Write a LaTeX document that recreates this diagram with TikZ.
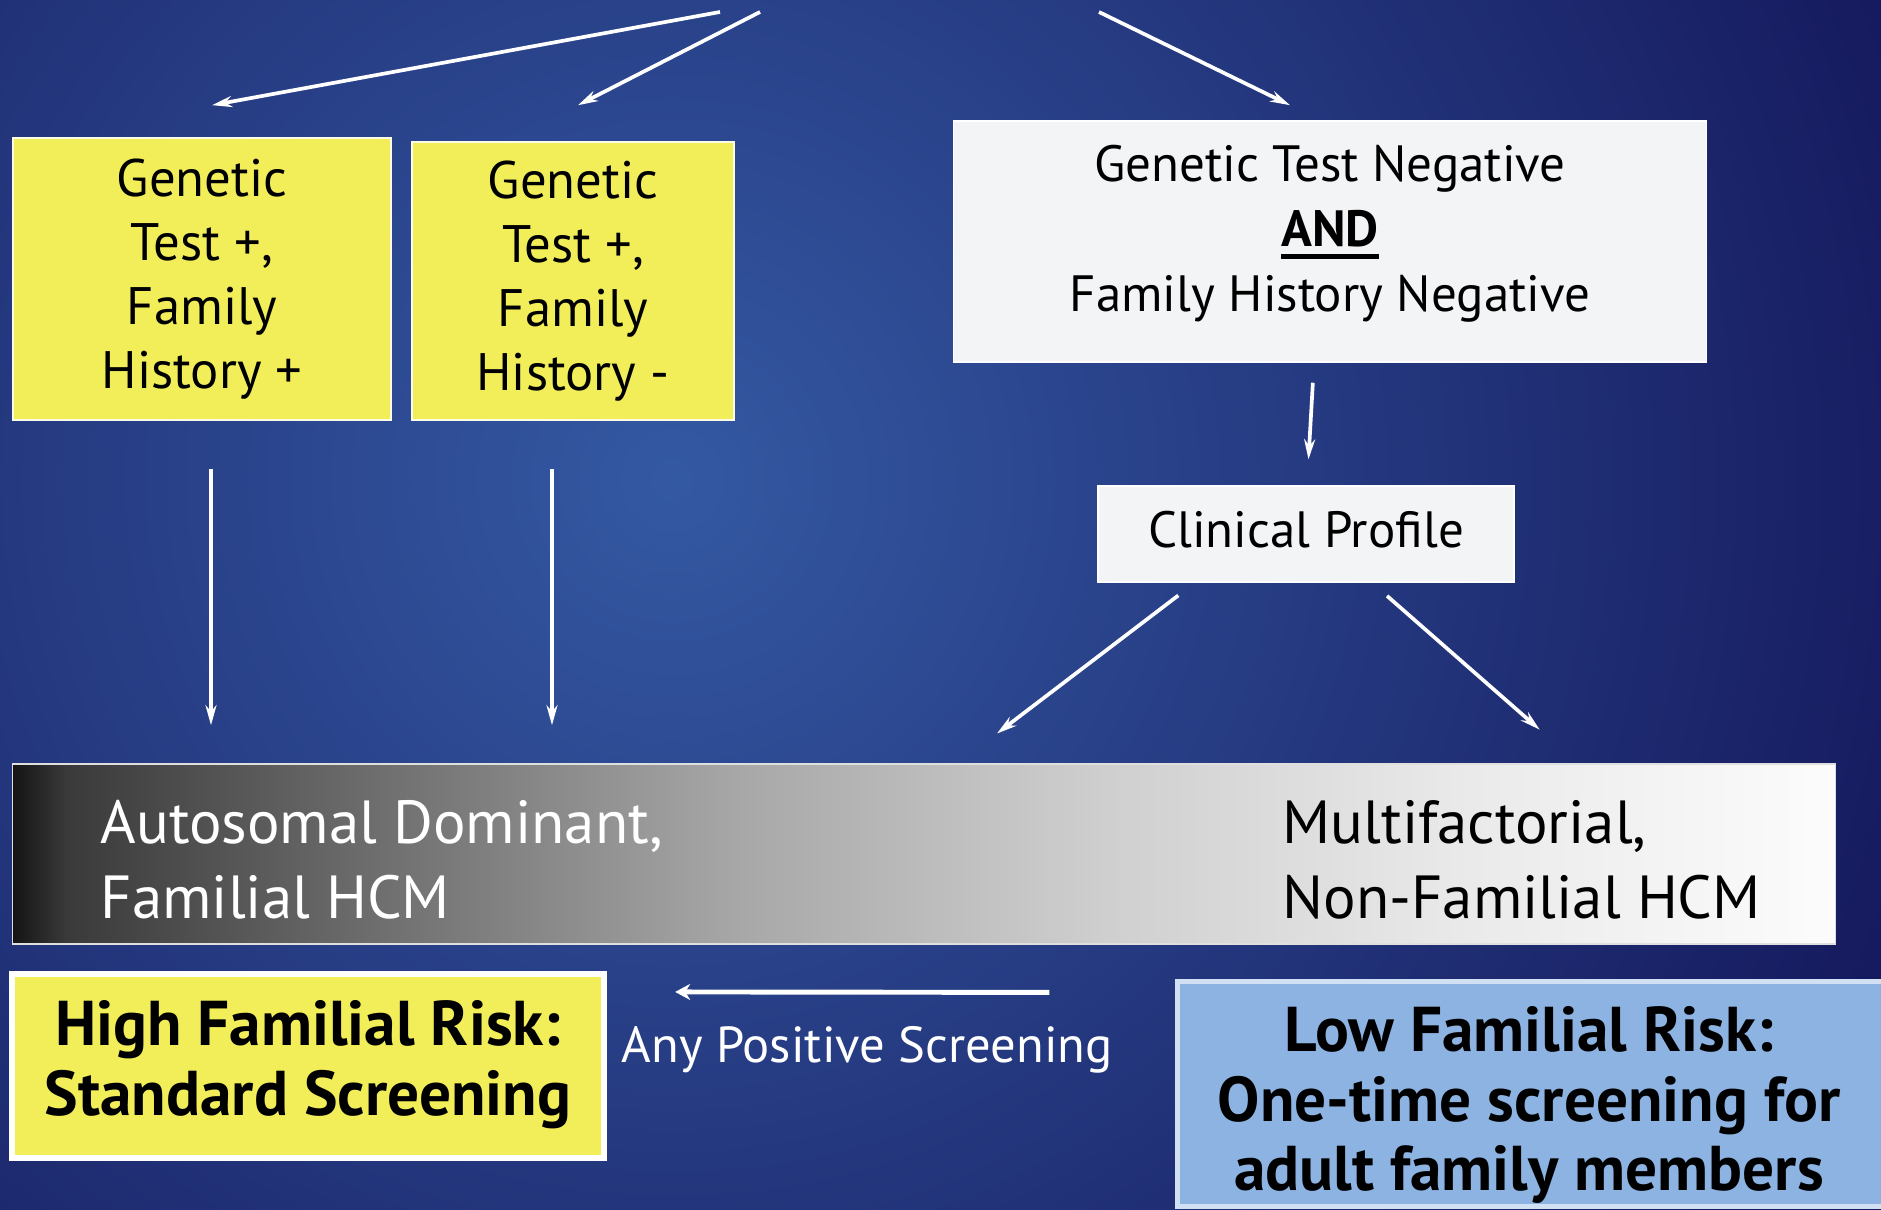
\documentclass[tikz,border=0pt]{standalone}
\usepackage{fontspec}
\setmainfont{PT Sans}
\usetikzlibrary{arrows.meta, positioning}

\definecolor{hcmNavy}{HTML}{161A5E}
\definecolor{hcmBlue}{HTML}{3459A3}
\definecolor{hcmYellow}{HTML}{F2EE5A}
\definecolor{hcmPaper}{HTML}{F2F4F6}
\definecolor{hcmSky}{HTML}{8DB3E2}
\definecolor{barK}{HTML}{141414}
\definecolor{barD}{HTML}{3A3A3A}
\definecolor{barM}{HTML}{6E6E6E}
\definecolor{barL}{HTML}{A8A8A8}
\definecolor{barP}{HTML}{CFCFCF}
\definecolor{barQ}{HTML}{EAEAEA}
\definecolor{barW}{HTML}{FCFCFC}

\pgfdeclarehorizontalshading{hcmbar}{100bp}{color(0bp)=(barK); color(25bp)=(barK);
  color(26.5bp)=(barD); color(35bp)=(barM); color(45bp)=(barL); color(55bp)=(barP);
  color(65bp)=(barQ); color(75bp)=(barW); color(100bp)=(barW)}

\newcommand\andline[1]{\leavevmode\setbox0=\hbox{#1}\rlap{\rule[-0.12cm]{\wd0}{0.045cm}}\box0}

\tikzset{
  flow/.style={draw=white, line width=1.05pt, -{Stealth[length=0.2cm, width=0.11cm]}},
  backflow/.style={draw=white, line width=1.4pt, -{Stealth[length=0.15cm, width=0.16cm]}},
  testbox/.style={rectangle, fill=hcmYellow, draw=white!85!hcmYellow, line width=0.4pt,
    align=center, inner sep=0pt, font=\fontsize{15}{18.2}\selectfont},
  paperbox/.style={rectangle, fill=hcmPaper, draw=white, line width=0.4pt, inner sep=0pt,
    font=\fontsize{14.5}{18.5}\selectfont},
  bartext/.style={align=left, inner sep=0pt, font=\fontsize{17.3}{21.3}\selectfont},
  riskbox/.style={rectangle, inner sep=0pt},
  risktext/.style={align=center, inner sep=0pt, font=\bfseries\fontsize{18}{19.9}\selectfont},
}

\begin{document}
\begin{tikzpicture}[x=0.01cm, y=-0.01cm]
  \useasboundingbox (0,0) rectangle (1881,1210);

  % background
  \begin{scope}
    \clip (0,0) rectangle (1881,1210);
    \fill[hcmNavy] (0,0) rectangle (1881,1210);
    \shade[inner color=hcmBlue, outer color=hcmNavy] (672,480) circle (13cm);
  \end{scope}

  % test outcomes
  \node[testbox, minimum width=3.78cm, minimum height=2.82cm] (gpos) at (202,279)
    {Genetic\\Test +,\\Family\\History +};
  \node[testbox, minimum width=3.22cm, minimum height=2.78cm] (gneg) at (573,281)
    {Genetic\\Test +,\\Family\\History -};
  \node[paperbox, minimum width=7.52cm, minimum height=2.41cm] (neg) at (1330,241.5) {};
  \node[paperbox, draw=none, fill=none, align=center] (negtxt) at (1330,234)
    {Genetic Test Negative\\\andline{\textbf{AND}}\\Family History Negative};
  \node[paperbox, minimum width=4.16cm, minimum height=0.96cm] (clin) at (1306,534) {};
  \node[paperbox, draw=none, fill=none] (clintxt) at (1306,530) {Clinical Profile};

  % spectrum bar
  \node[shade, shading=hcmbar, draw=white!75!gray, line width=0.4pt,
    minimum width=18.22cm, minimum height=1.80cm] (bar) at (924,854) {};
  \node[bartext, text=white, anchor=west] (adom) at (100,860)
    {Autosomal Dominant,\\Familial HCM};
  \node[bartext, text=black, anchor=west] (multi) at (1282,860)
    {Multifactorial,\\Non-Familial HCM};

  % risk boxes
  \node[riskbox, fill=hcmYellow, draw=white, line width=0.06cm,
    minimum width=5.92cm, minimum height=1.84cm] (high) at (308,1066) {};
  \node[risktext] (hightxt) at (308,1065) {High Familial Risk:\\Standard Screening};
  \node[riskbox, fill=hcmSky, draw=white!60!hcmSky, line width=0.05cm,
    minimum width=7.12cm, minimum height=2.24cm] (low) at (1534,1094) {};
  \node[risktext] (lowtxt) at (1529,1105) {Low Familial Risk:\\One-time screening for\\adult family members};

  % arrows
  \coordinate (srcA) at (720,12);
  \coordinate (srcB) at (760,12);
  \coordinate (srcC) at (1099,12);
  \draw[flow] (srcA) -- ([shift={(10,-32)}]gpos.north);
  \draw[flow] (srcB) -- ([shift={(5,-36)}]gneg.north);
  \draw[flow] (srcC) -- ([shift={(-40,-15)}]neg.north);
  \draw[flow, shorten <=0.48cm, shorten >=0.38cm] (gpos.south -| 211,0) -- (bar.north -| 211,0);
  \draw[flow, shorten <=0.48cm, shorten >=0.38cm] (gneg.south -| 552,0) -- (bar.north -| 552,0);
  \draw[flow, shorten <=0.20cm, shorten >=0.26cm] ([shift={(-16,0)}]neg.south) -- ([shift={(1,0)}]clin.north);
  \draw[flow, shorten <=0.21cm, shorten >=0.49cm] ([shift={(-111,0)}]clin.south) -- (bar.north -| 958,0);
  \draw[flow, shorten <=0.20cm, shorten >=0.51cm] ([shift={(66,0)}]clin.south) -- (bar.north -| 1578,0);
  \draw[backflow] ([shift={(-126,13)}]low.north west) -- ([shift={(68,21)}]high.north east)
    node[midway, below=0.2cm, xshift=0.05cm, text=white, font=\fontsize{14.4}{18}\selectfont] (anypos)
    {Any Positive Screening};
\end{tikzpicture}
\end{document}
